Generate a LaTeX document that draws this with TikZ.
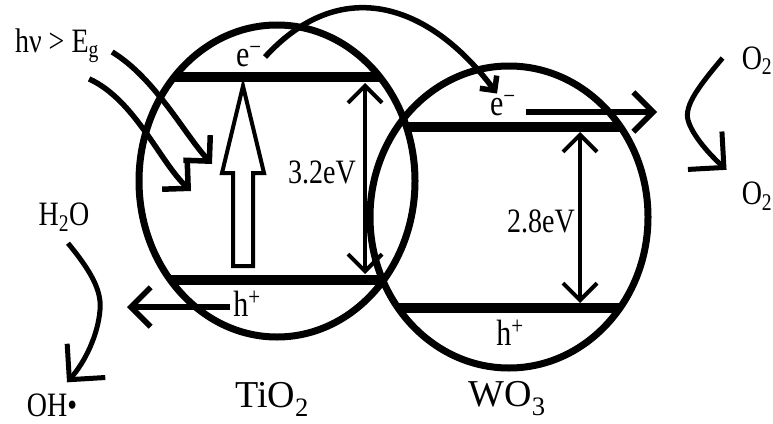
\documentclass[tikz,border=0pt]{standalone}
\usepackage{fontspec}
\usepackage{graphicx}
\setmainfont{Liberation Serif}
\usetikzlibrary{arrows.meta,shapes.geometric}
\newcommand\stretchtext[1]{\scalebox{1}[1.22]{#1}}
\begin{document}
\begin{tikzpicture}[x=1pt,y=-1pt,
  lbl/.style={font=\fontsize{28}{32}\selectfont, inner sep=0pt},
  big/.style={font=\fontsize{38}{42}\selectfont, inner sep=0pt},
  carrier/.style={font=\fontsize{30}{34}\selectfont, inner sep=0pt},
  particle/.style={draw, ellipse, line width=7pt, inner sep=0pt},
  band/.style={line width=10pt},
  lArrow/.style={-{Straight Barb[angle=90:#1]}},
  vArrow/.style={line width=5.5pt, -{Straight Barb[angle=90:28pt]}},
  gapArrow/.style={line width=4pt, {Straight Barb[angle=90:24pt]}-{Straight Barb[angle=90:24pt]}},
  hollow/.style={line width=4pt, line join=miter},
]
\useasboundingbox (0,0) rectangle (773,423);
\fill[white] (0,0) rectangle (773,423);

% particles
\node[particle, minimum width=276pt, minimum height=312pt] (tio2) at (277,181) {};
\node[particle, minimum width=278pt, minimum height=302pt] (wo3) at (509,217) {};

% bands
\begin{scope}
  \clip (277,181) ellipse [x radius=138pt, y radius=156pt];
  \draw[band] (100,77) -- (450,77);
  \draw[band] (100,280) -- (450,280);
\end{scope}
\begin{scope}
  \clip (509,217) ellipse [x radius=139pt, y radius=151pt];
  \draw[band] (408,127) -- (700,127);
  \draw[band] (300,308) -- (700,308);
\end{scope}

% hollow excitation arrow
\draw[hollow] (233,266) -- (233,173) -- (222,173) -- (243,86) -- (264,173) -- (253,173) -- (253,266) -- cycle;

% band gap arrows
\coordinate (g1t) at (365,83);
\coordinate (g1b) at (365,274);
\coordinate (g2t) at (580,132);
\coordinate (g2b) at (580,303);
\draw[gapArrow] (g1t) -- (g1b);
\draw[gapArrow] (g2t) -- (g2b);

% labels
\node[lbl] (hv) at (57,46) {\stretchtext{hν > E\textsubscript{g}}};
\node[carrier] (e1) at (249,57) {\stretchtext{e\textsuperscript{−}}};
\node[carrier] (e2) at (503,106) {\stretchtext{e\textsuperscript{−}}};
\node[carrier] (h1) at (247,304) {\stretchtext{h\textsuperscript{+}}};
\node[carrier] (h2) at (510,333) {\stretchtext{h\textsuperscript{+}}};
\node[lbl] (gap1) at (322,172) {\stretchtext{3.2eV}};
\node[lbl] (gap2) at (541,221) {\stretchtext{2.8eV}};
\node[lbl] (h2o) at (64,217) {\stretchtext{H\textsubscript{2}O}};
\node[lbl] (oh) at (52,405) {\stretchtext{OH•}};
\node[lbl] (o2a) at (757,61) {\stretchtext{O\textsubscript{2}}};
\node[lbl] (o2b) at (757,196) {\stretchtext{O\textsubscript{2}}};
\node[big] (ltio2) at (272,399) {TiO\textsubscript{2}};
\node[big] (lwo3) at (507,399) {WO\textsubscript{3}};

% light arrows
\coordinate (gapA) at (212,164);
\coordinate (gapB) at (191,191);
\draw[lArrow=26pt, line width=5.5pt] ([xshift=13pt,yshift=-6pt]hv.east) .. controls (155,78) and (185,135) .. (gapA);
\draw[lArrow=26pt, line width=5.5pt] ([xshift=-10pt,yshift=-16pt]hv.south east) .. controls (135,100) and (160,162) .. (gapB);

% electron transfer
\draw[lArrow=15pt, line width=5.5pt] ([xshift=3pt]e1.east) .. controls (340,-25) and (428,2) .. ([xshift=-6pt,yshift=2pt]e2.north);

% electron out of WO3
\coordinate (eout) at (657,112);
\draw[vArrow] ([xshift=10pt,yshift=-6pt]e2.east) -- (eout);

% hole out of TiO2
\coordinate (hout) at (127,307);
\draw[vArrow] ([xshift=-3pt,yshift=-3pt]h1.west) -- (hout);

% H2O -> OH
\draw[lArrow=36pt, line width=5pt] ([xshift=4pt,yshift=-12pt]h2o.south) .. controls (90,270) and (102,290) .. (100,310) .. controls (98,335) and (85,362) .. ([xshift=15pt,yshift=11pt]oh.north);

% O2 -> O2
\draw[lArrow=36pt, line width=5pt] ([xshift=-19pt,yshift=3pt]o2a.west) .. controls (700,85) and (684,105) .. (688,120) .. controls (692,135) and (710,155) .. ([xshift=-15pt,yshift=12pt]o2b.north west);
\end{tikzpicture}
\end{document}
